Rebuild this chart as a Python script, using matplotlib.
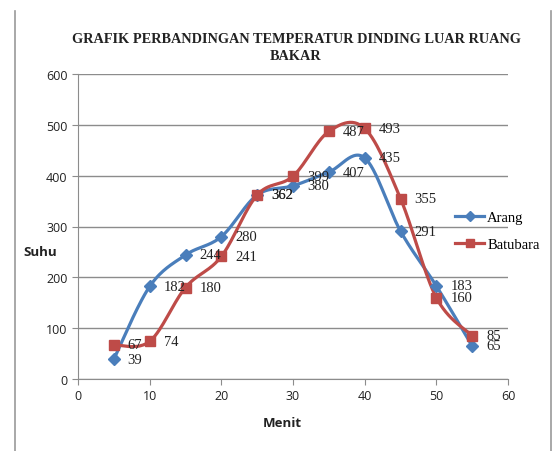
import numpy as np
import matplotlib
matplotlib.use("Agg")
import matplotlib.pyplot as plt
from matplotlib.lines import Line2D

# data
menit = [5, 10, 15, 20, 25, 30, 35, 40, 45, 50, 55]
arang = [39, 182, 244, 280, 362, 380, 407, 435, 291, 183, 65]
batubara = [67, 74, 180, 241, 362, 399, 487, 493, 355, 160, 85]

judul = "GRAFIK PERBANDINGAN TEMPERATUR DINDING LUAR RUANG\nBAKAR"

biru = "#4A7EBB"
merah = "#BE4B48"


# kurva halus ala excel (bezier, catmull-rom)
def smooth(x, y, n=30):
    x = np.asarray(x, float)
    y = np.asarray(y, float)
    # skala supaya x dan y sebanding di layar
    sx = 430 / 60.0
    sy = 305 / 600.0
    p = np.column_stack([x * sx, y * sy])
    out = [p[0]]
    t = np.linspace(0, 1, n)[1:]
    for i in range(len(p) - 1):
        p0 = p[i - 1] if i > 0 else p[i]
        p1 = p[i]
        p2 = p[i + 1]
        p3 = p[i + 2] if i + 2 < len(p) else p[i + 1]
        c1 = p1 + (p2 - p0) / 6.0
        c2 = p2 - (p3 - p1) / 6.0
        seg = ((1 - t) ** 3)[:, None] * p1 + (3 * (1 - t) ** 2 * t)[:, None] * c1 \
            + (3 * (1 - t) * t ** 2)[:, None] * c2 + (t ** 3)[:, None] * p2
        out.extend(seg)
    out = np.array(out)
    return out[:, 0] / sx, out[:, 1] / sy


fig = plt.figure(figsize=(5.57, 4.52), dpi=100)
ax = fig.add_axes([78 / 557, 1 - 380 / 452, 430 / 557, 305 / 452])

for ys, warna, mk, ms, nama in [(arang, biru, "D", 6.5, "Arang"),
                                 (batubara, merah, "s", 7, "Batubara")]:
    sxs, sys_ = smooth(menit, ys)
    ax.plot(sxs, sys_, color=warna, lw=2.3, solid_capstyle="round", zorder=3)
    ax.plot(menit, ys, ls="none", marker=mk, ms=ms, color=warna, zorder=4)
    for xv, yv in zip(menit, ys):
        ax.annotate(str(yv), (xv, yv), xytext=(10, 0), textcoords="offset points",
                    va="center", ha="left", fontsize=10.5,
                    family="Liberation Serif", color="#222222", zorder=5)

ax.set_xlim(0, 60)
ax.set_ylim(0, 600)
ax.set_xticks(range(0, 61, 10))
ax.set_yticks(range(0, 601, 100))
ax.yaxis.grid(True, color="#8C8C8C", lw=1)
ax.set_axisbelow(True)
for s in ["top", "right"]:
    ax.spines[s].set_visible(False)
for s in ["left", "bottom"]:
    ax.spines[s].set_color("#8C8C8C")
ax.tick_params(colors="#8C8C8C", length=4, labelcolor="#222222",
               labelsize=9)
for lbl in ax.get_xticklabels() + ax.get_yticklabels():
    lbl.set_family("Open Sans")

ax.set_xlabel("Menit", fontsize=9.5, fontweight="bold", family="Open Sans",
              color="#222222")
ax.xaxis.set_label_coords((282 - 78) / 430, -(424 - 380) / 305)
ax.xaxis.label.set_va("center")
ax.set_ylabel("Suhu", fontsize=9.5, fontweight="bold", family="Open Sans",
              color="#222222", rotation=0, va="center", ha="center")
ax.yaxis.set_label_coords(-(78 - 40) / 430, (380 - 253) / 305)

fig.text(296 / 557, 1 - 48 / 452, judul, ha="center", va="center",
         fontsize=10.3, fontweight="bold", family="Liberation Serif",
         linespacing=1.35, color="#222222")

leg_items = [Line2D([], [], color=biru, lw=2.3, marker="D", ms=5),
             Line2D([], [], color=merah, lw=2.3, marker="s", ms=6)]
fig.legend(leg_items, ["Arang", "Batubara"], loc="center left",
           bbox_to_anchor=(442 / 557, 1 - 232 / 452), frameon=False,
           prop={"family": "Liberation Serif", "size": 10.5},
           handlelength=2.0, handletextpad=0.2, labelspacing=0.9)

# bingkai kiri dan kanan
fig.add_artist(Line2D([15 / 557, 15 / 557], [0, 1 - 12 / 452],
                      color="#9A9A9A", lw=1.2))
fig.add_artist(Line2D([551 / 557, 551 / 557], [0, 1 - 12 / 452],
                      color="#9A9A9A", lw=1.2))

fig.savefig("out.png", dpi=100)
